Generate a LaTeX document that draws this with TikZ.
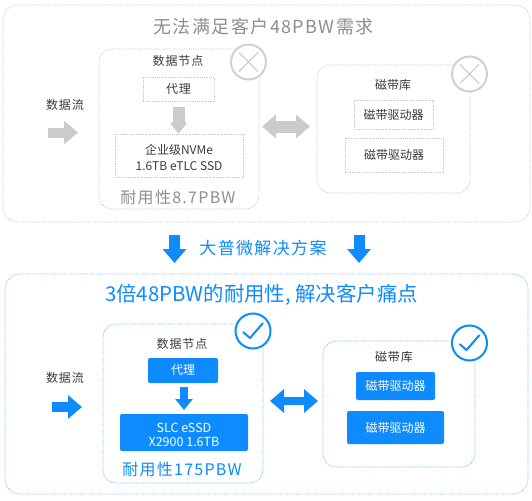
\documentclass[tikz,border=0pt]{standalone}
\usepackage{fontspec}
\usetikzlibrary{arrows.meta}
\setmainfont{Noto Sans CJK SC}
\newfontfamily\widefont[LetterSpace=8]{Noto Sans CJK SC}
\newfontfamily\midfont[LetterSpace=8]{Noto Sans CJK SC}
\definecolor{bluemain}{HTML}{0D8BFF}
\definecolor{bluedot}{HTML}{7FBDF5}
\definecolor{graydot}{HTML}{C8C8C8}
\definecolor{grayarrow}{HTML}{C9CBCC}
\definecolor{graytext}{HTML}{8E8E8E}
\definecolor{inktext}{HTML}{3A3A3A}
\tikzset{
  graybox/.style={draw=graydot,line width=.7pt,dash pattern=on .9pt off .9pt,fill=white,inner sep=0pt,align=center,text=inktext},
  bluebox/.style={draw=bluedot,line width=.7pt,dash pattern=on .9pt off .9pt,fill=white,inner sep=0pt,align=center},
  solidbox/.style={fill=bluemain,rounded corners=2pt,inner sep=0pt,align=center,text=white},
  label/.style={inner sep=0pt,text=inktext},
  markgray/.style={circle,draw=graydot!85,line width=2pt,fill=white,minimum size=35pt,inner sep=0pt},
  markblue/.style={circle,draw=bluemain,line width=2pt,fill=white,minimum size=35pt,inner sep=0pt},
  flowone/.style={line width=#1,-{Triangle[width=17pt,length=11pt]},shorten >=0pt},
  flowtwo/.style={line width=#1,{Triangle[width=23pt,length=14pt]}-{Triangle[width=23pt,length=14pt]}},
  flowwide/.style={line width=#1,-{Triangle[width=23pt,length=14pt]}}
}
\newcommand{\sz}[2]{\fontsize{#1}{#2}\selectfont}
\begin{document}
\begin{tikzpicture}[x=1pt,y=-1pt]
\useasboundingbox (0,0) rectangle (532,500);
% top panel
\node[graybox,rounded corners=15pt,minimum width=527pt,minimum height=217pt] (topPanel) at (266.5,113.5) {};
\node[inner sep=0pt,text=graytext] (topTitle) at (263.5,27) {\widefont\sz{18}{22}无法满足客户48PBW需求};
\node[graybox,rounded corners=13pt,minimum width=160pt,minimum height=160pt] (nodeA) at (179,129) {};
\node[label] (nodeATitle) at (178,61) {\midfont\sz{12}{14}数据节点};
\node[graybox,minimum width=71pt,minimum height=24pt] (proxyA) at (178.5,89) {\midfont\sz{12}{14}代理};
\node[graybox,minimum width=128pt,minimum height=43pt,font=\sz{12}{15.5}] (ssdA) at (179,155.5) {\rule{0pt}{14pt}企业级NVMe\\1.6TB eTLC SSD};
\node[inner sep=0pt,text=graytext] (enduranceA) at (178,197) {\widefont\sz{16}{19}耐用性8.7PBW};
\node[label] (flowA) at (65,105) {\midfont\sz{12}{14}数据流};
\coordinate (flowAstart) at (48,132.5);
\coordinate (flowAend) at (78,132.5);
\draw[flowwide=10pt,grayarrow] (flowAstart) -- (flowAend);
\draw[flowone=12pt,grayarrow] (proxyA.south |- 0,107) -- (proxyA.south |- ssdA.north);
\node[graybox,rounded corners=13pt,minimum width=153pt,minimum height=128pt] (tapeA) at (393.5,129) {};
\node[label] (tapeATitle) at (393,85) {\sz{12}{14}磁带库};
\node[graybox,minimum width=79pt,minimum height=29pt] (driveA1) at (393.5,114.5) {\sz{12}{14}磁带驱动器};
\node[graybox,minimum width=98pt,minimum height=34pt] (driveA2) at (394,155) {\sz{12}{14}\raisebox{-1.5pt}{磁带驱动器}};
\coordinate (linkAleft) at (262,126.5);
\coordinate (linkAright) at (310,126.5);
\draw[flowtwo=12pt,grayarrow] (linkAleft) -- (linkAright);
\node[markgray] (crossA) at (248.5,62) {};
\draw[graydot!85,line width=1.2pt] (crossA.45) ++(-3.5,3.5) -- ([shift={(3.5,-3.5)}]crossA.225);
\draw[graydot!85,line width=1.2pt] (crossA.135) ++(3.5,3.5) -- ([shift={(-3.5,-3.5)}]crossA.315);
\node[markgray] (crossB) at (469.5,74) {};
\draw[graydot!85,line width=1.2pt] (crossB.45) ++(-3.5,3.5) -- ([shift={(3.5,-3.5)}]crossB.225);
\draw[graydot!85,line width=1.2pt] (crossB.135) ++(3.5,3.5) -- ([shift={(-3.5,-3.5)}]crossB.315);
% middle
\node[inner sep=0pt,text=bluemain] (solution) at (263,248) {\midfont\sz{17}{20}大普微解决方案};
\coordinate (downLstart) at (174.5,235);
\coordinate (downLend) at (174.5,263);
\coordinate (downRstart) at (359,235);
\coordinate (downRend) at (359,263);
\draw[flowwide=11pt,bluemain] (downLstart) -- (downLend);
\draw[flowwide=11pt,bluemain] (downRstart) -- (downRend);
% bottom panel
\node[bluebox,rounded corners=15pt,minimum width=523pt,minimum height=220pt] (botPanel) at (266.5,384) {};
\node[inner sep=0pt,text=bluemain] (botTitle) at (261.5,295) {\sz{20.4}{24}3倍48PBW的耐用性, 解决客户痛点};
\node[bluebox,rounded corners=13pt,minimum width=160pt,minimum height=159pt] (nodeB) at (183,403.5) {};
\node[label] (nodeBTitle) at (182,344) {\midfont\sz{12}{14}数据节点};
\node[solidbox,minimum width=70pt,minimum height=25pt] (proxyB) at (183,370.5) {\sz{12}{14}代理};
\node[solidbox,minimum width=128pt,minimum height=37pt,font=\sz{12.5}{14}] (ssdB) at (184,432.5) {\rule{0pt}{13.5pt}SLC eSSD\\X2900 1.6TB};
\node[inner sep=0pt,text=bluemain] (enduranceB) at (182,469) {\widefont\sz{16}{19}耐用性175PBW};
\node[label] (flowB) at (65,378) {\midfont\sz{12}{14}数据流};
\coordinate (flowBstart) at (52,407);
\coordinate (flowBend) at (82,407);
\draw[flowwide=10pt,bluemain] (flowBstart) -- (flowBend);
\draw[flowone=8pt,bluemain] (184,387) -- (184,410);
\node[bluebox,rounded corners=13pt,minimum width=152pt,minimum height=126pt] (tapeB) at (399,404) {};
\node[label] (tapeBTitle) at (394,357) {\midfont\sz{12}{14}磁带库};
\node[solidbox,minimum width=79pt,minimum height=28pt] (driveB1) at (395.5,386) {\sz{12}{14}磁带驱动器};
\node[solidbox,minimum width=97pt,minimum height=33pt] (driveB2) at (395.5,427.5) {\sz{12}{14}磁带驱动器};
\coordinate (linkBleft) at (270,401);
\coordinate (linkBright) at (318,401);
\draw[flowtwo=8pt,bluemain] (linkBleft) -- (linkBright);
\node[markblue] (checkA) at (253,331) {};
\draw[bluemain,line width=2pt] ([shift={(-10,1)}]checkA.center) -- ([shift={(-3,7)}]checkA.center) -- ([shift={(10,-8)}]checkA.center);
\node[markblue] (checkB) at (469.5,343) {};
\draw[bluemain,line width=2pt] ([shift={(-10,1)}]checkB.center) -- ([shift={(-3,7)}]checkB.center) -- ([shift={(10,-8)}]checkB.center);
\end{tikzpicture}
\end{document}
